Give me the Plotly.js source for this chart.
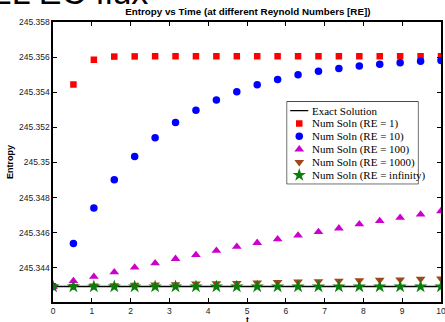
<!DOCTYPE html>
<html>
<head>
<meta charset="utf-8">
<script src="https://cdn.plot.ly/plotly-3.0.1.min.js"></script>
<style>html,body{margin:0;padding:0;background:#fff;}#chart{width:445px;height:322px;}</style>
</head>
<body>
<div id="chart"></div>
<script>
// ---- data ----
var time = [0, 0.526, 1.053, 1.579, 2.105, 2.632, 3.158, 3.684, 4.211, 4.737,
            5.263, 5.789, 6.316, 6.842, 7.368, 7.895, 8.421, 8.947, 9.474, 10];
var exactT = [0, 10];
var exactS = [245.34293, 245.34293];
var re1 = [245.34293, 245.35444, 245.35585, 245.35603, 245.35604, 245.35605, 245.35605, 245.35605, 245.35605, 245.35605,
           245.35605, 245.35605, 245.35605, 245.35605, 245.35605, 245.35605, 245.35605, 245.35605, 245.35605, 245.35605];
var re10 = [245.34293, 245.34538, 245.34740, 245.34902, 245.35034, 245.35141, 245.35228, 245.35297, 245.35355, 245.35402,
            245.35442, 245.35473, 245.35499, 245.35519, 245.35535, 245.35549, 245.35559, 245.35568, 245.35576, 245.35581];
var re100 = [245.34293, 245.34325, 245.34349, 245.34375, 245.34402, 245.34426, 245.34451, 245.34473, 245.34497, 245.34520,
             245.34542, 245.34563, 245.34584, 245.34604, 245.34625, 245.34648, 245.34667, 245.34685, 245.34704, 245.34723];
var re1000 = [245.34293, 245.34296, 245.34298, 245.34300, 245.34302, 245.34304, 245.34306, 245.34309, 245.34311, 245.34313,
              245.34315, 245.34318, 245.34321, 245.34323, 245.34326, 245.34328, 245.34331, 245.34333, 245.34336, 245.34338];
var reInf = [245.34293, 245.34293, 245.34293, 245.34293, 245.34293, 245.34293, 245.34293, 245.34293, 245.34293, 245.34293,
             245.34293, 245.34293, 245.34293, 245.34293, 245.34293, 245.34293, 245.34293, 245.34293, 245.34293, 245.34293];
var legendLabels = ["Exact Solution", "Num Soln (RE = 1)", "Num Soln (RE = 10)", "Num Soln (RE = 100)",
                    "Num Soln (RE = 1000)", "Num Soln (RE = infinity)"];
var yTickVals = [245.344, 245.346, 245.348, 245.350, 245.352, 245.354, 245.356, 245.358];
var yTickText = ["245.344", "245.346", "245.348", "245.35", "245.352", "245.354", "245.356", "245.358"];
var xTickVals = [0, 1, 2, 3, 4, 5, 6, 7, 8, 9, 10];

// ---- styles ----
var series = [
  {y: re1,    color: "#ff0000", symbol: "square",        size: 6.5},
  {y: re10,   color: "#0000ff", symbol: "circle",        size: 7.5},
  {y: re100,  color: "#cc00cc", symbol: "triangle-up",   size: 8.5},
  {y: re1000, color: "#a0461a", symbol: "triangle-down", size: 8.5},
  {y: reInf,  color: "#0a7d0a", symbol: "star",          size: 10}
];

var traces = [{
  x: exactT, y: exactS, mode: "lines", type: "scatter",
  line: {color: "#000", width: 1.6}, showlegend: false, hoverinfo: "skip"
}];
series.forEach(function (s) {
  traces.push({
    x: time, y: s.y, mode: "markers", type: "scatter", showlegend: false,
    marker: {color: s.color, symbol: s.symbol, size: s.size, line: {width: 0}}
  });
});

// manual legend on a helper axis pair (rows = legend index)
var LX = [0.6036, 0.9404], LY = [0.4225, 0.7145];
traces.push({
  x: [3, 21], y: [0, 0], xaxis: "x2", yaxis: "y2", mode: "lines", type: "scatter",
  line: {color: "#000", width: 1.3}, showlegend: false, hoverinfo: "skip"
});
series.forEach(function (s, i) {
  traces.push({
    x: [12], y: [i + 1], xaxis: "x2", yaxis: "y2", mode: "markers", type: "scatter",
    showlegend: false, hoverinfo: "skip",
    marker: {color: s.color, symbol: s.symbol, size: s.size, line: {width: 0}}
  });
});
var annotations = legendLabels.map(function (lab, i) {
  return {
    text: lab, xref: "x2", yref: "y2", x: 23, y: i, xanchor: "left", yanchor: "middle",
    showarrow: false, font: {family: "Liberation Serif, Times New Roman, serif", size: 11, color: "#000"}
  };
});
// slide heading, cut off at the top edge as in the reference
annotations.push({
  text: "EL EC flux", xref: "paper", yref: "paper", x: -0.1675, y: 1.036, xanchor: "left", yanchor: "bottom",
  showarrow: false, borderpad: 0, font: {family: "Liberation Sans, Arial, sans-serif", size: 34, color: "#000"}
});
// x-axis title
annotations.push({
  text: "<b>t</b>", xref: "paper", yref: "paper", x: 0.5, y: -0.042, xanchor: "center", yanchor: "top",
  showarrow: false, borderpad: 0, font: {family: "Liberation Sans, Arial, sans-serif", size: 8.5, color: "#000"}
});

var tickFont = {family: "Liberation Sans, Arial, sans-serif", size: 8.5, color: "#222"};
var layout = {
  width: 445, height: 322,
  margin: {l: 53, r: 4, t: 21.5, b: 19.5},
  paper_bgcolor: "#fff", plot_bgcolor: "#fff",
  showlegend: false,
  title: {
    text: "<b>Entropy vs Time (at different Reynold Numbers [RE])</b>",
    font: {family: "Liberation Sans, Arial, sans-serif", size: 9.8, color: "#000"},
    x: 0.557, xanchor: "center", y: 0.965, yanchor: "middle"
  },
  xaxis: {
    range: [0, 10], tickvals: xTickVals, ticks: "inside", ticklen: 4, tickwidth: 1, tickcolor: "#000",
    showline: true, linecolor: "#000", linewidth: 1.6, mirror: "ticks", showgrid: false, zeroline: false,
    tickfont: tickFont, ticklabeloverflow: "allow"
  },
  yaxis: {
    range: [245.34205, 245.358], tickvals: yTickVals, ticktext: yTickText,
    ticks: "inside", ticklen: 4, tickwidth: 1, tickcolor: "#000",
    showline: true, linecolor: "#000", linewidth: 1.6, mirror: "ticks", showgrid: false, zeroline: false,
    tickfont: tickFont,
    title: {text: "<b>Entropy</b>", font: {family: "Liberation Sans, Arial, sans-serif", size: 9, color: "#000"}, standoff: 4}
  },
  xaxis2: {domain: LX, range: [0, 130], visible: false, fixedrange: true, anchor: "y2"},
  yaxis2: {domain: LY, range: [5.667, -0.667], visible: false, fixedrange: true, anchor: "x2"},
  shapes: [{
    type: "rect", xref: "paper", yref: "paper", x0: LX[0], x1: LX[1], y0: LY[0], y1: LY[1],
    line: {color: "#000", width: 1.2}, fillcolor: "#fff", layer: "below"
  }],
  annotations: annotations
};

Plotly.newPlot("chart", traces, layout, {staticPlot: true, displayModeBar: false});
</script>
</body>
</html>
